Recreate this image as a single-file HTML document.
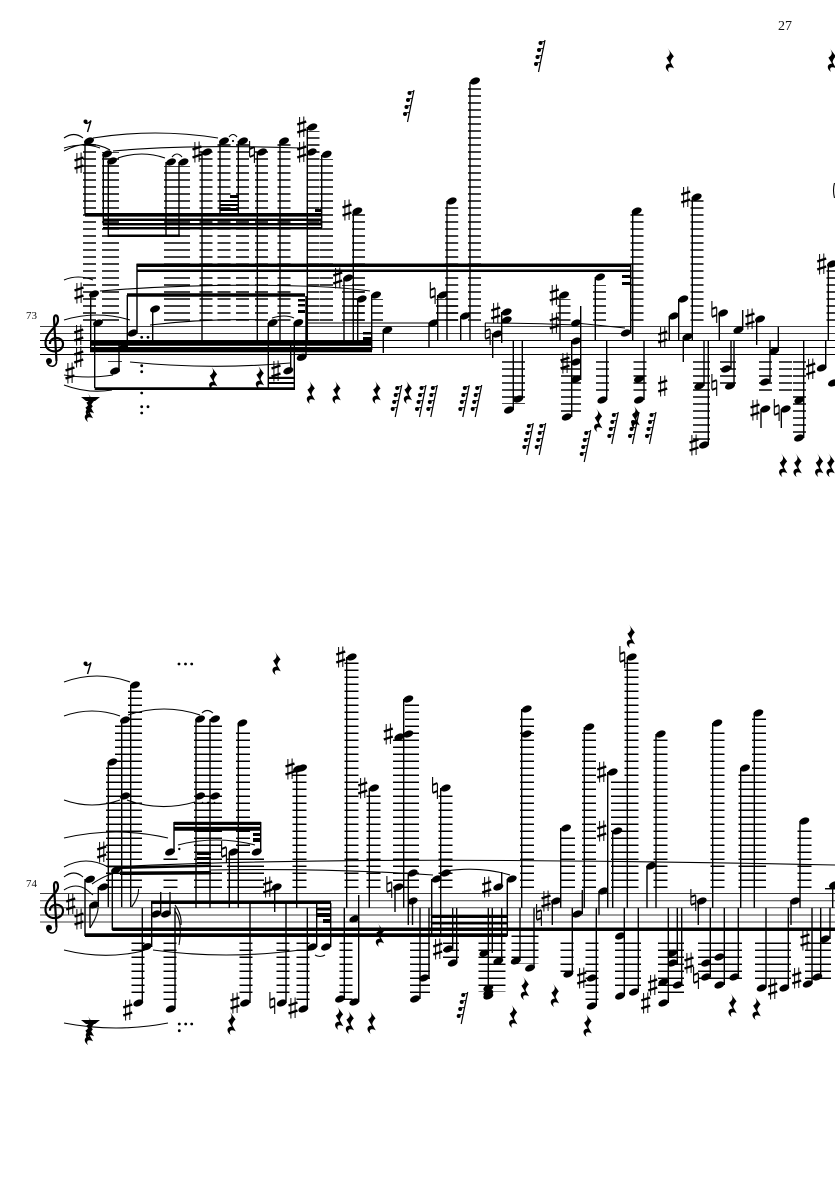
<!DOCTYPE html>
<html><head><meta charset="utf-8"><style>
html,body{margin:0;padding:0;background:#fff}
svg{display:block}
.st{fill:none;stroke:#000;stroke-width:1.4}
.lg{fill:none;stroke:#000;stroke-dasharray:1.5 5.5}
.sl{fill:none;stroke:#000;stroke-width:1.1}
text{font-family:"Liberation Serif",serif;fill:#111}
</style></head><body>
<svg width="835" height="1181" viewBox="0 0 835 1181" xmlns="http://www.w3.org/2000/svg">
<defs>
<ellipse id="n" rx="5.2" ry="3.3" transform="rotate(-22)"/>
<g id="s"><path d="M-2.100 -10V10.500M2.100 -10.500V10" stroke="#000" stroke-width="1"/><path d="M-4.500 -2.500L4.500 -5.500M-4.500 5.500L4.500 2.500" stroke="#000" stroke-width="2.400"/></g>
<g id="t"><path d="M-2.400 -11V4.500M2.400 -4.500V11" stroke="#000" stroke-width="1.100"/><path d="M-2.400 -3L2.400 -5M-2.400 5L2.400 3" stroke="#000" stroke-width="2"/></g>
<path id="r" transform="scale(1.200)" d="M-2 -10L3.200 -3C1.200 -1 .4 1 .6 2L3.400 7C0 5 -3 6 -.8 10C-5 7 -4 3 0 3L-3 -2C0 -4 1 -6 -2 -10Z"/>
<g id="f"><path d="M0 0L-6.500 32" stroke="#000" stroke-width="1.200"/><circle cx="-4.500" cy="3" r="2"/><circle cx="-6" cy="10" r="2"/><circle cx="-7.500" cy="17" r="2"/><circle cx="-9" cy="24" r="2"/><path d="M-4.500 2L-.5 1.500M-6 9L-2 8.500M-7.500 16L-3.500 15.500M-9 23L-5 22.500" stroke="#000" stroke-width="1"/></g>
<g id="e"><circle cx="-2.500" cy="-3.500" r="2"/><path d="M-3 -2C-1 -1 1 -2 3 -4.500L-.5 7" fill="none" stroke="#000" stroke-width="1.400"/></g>
<g id="c"><path d="M56.500 361L54 319C53.800 314 58 314 58 320C58 327 45.500 332 45.500 343C45.500 354 63 354 63 344C63 336 49.500 336 50 344" fill="none" stroke="#000" stroke-width="2.200"/><path d="M56.500 361C57 368 47 368 47 361" fill="none" stroke="#000" stroke-width="1.500"/><circle cx="49" cy="361" r="3"/></g>
<g id="b"><path d="M-8 0H11L6 4H-3Z"/><use href="#r" x="1" y="8"/><use href="#r" x="0" y="13"/></g>
</defs>

<text x="778" y="30" font-size="14">27</text>
<text x="26" y="319" font-size="11">73</text>
<text x="26" y="887" font-size="11">74</text>

<!-- staves -->
<path d="M40 326.500H835M40 333.500H835" stroke="#000" stroke-width="1" opacity=".75"/>
<path d="M40 340.500H835M40 347.500H835M40 354.500H835" stroke="#000" stroke-width="1"/>
<path d="M40 893.500H835M40 900.700H835M40 907.800H835M40 915H835M40 922H835" stroke="#000" stroke-width="1" opacity=".75"/>
<use href="#c"/><use href="#c" y="566.700"/>

<!-- ledger lines -->
<g class="lg">
<path stroke-width="13" d="M89.500 320.700V144M242.500 320.700V144M261.500 320.700V151M284 320.700V144M206 320.700V151M224 320.700V144M358.500 320.700V214M451.700 320.700V203M474.500 320.700V87M637 320.700V214M697 320.700V200M599.500 320.700V285M564 320.700V299M833 320.700V269"/>
<path stroke-width="17" d="M110.500 320.700V152"/>
<path stroke-width="26" d="M177 320.700V166"/>
<path stroke-width="13" d="M313 320.700V131M326.500 320.700V159"/>
<path stroke-width="22" d="M353 320.700V285M447 320.700V299"/>
<path stroke-width="12" d="M377 320.700V299"/>
<path stroke-width="23" d="M513.500 361.200V404"/>
<path stroke-width="20" d="M571 361.200V413"/>
<path stroke-width="13" d="M602.500 361.200V396M640 361.200V396M765.500 361.200V396M785.500 361.200V396"/>
<path stroke-width="17" d="M701.500 361.200V442"/>
<path stroke-width="16" d="M728 361.200V385"/>
<path stroke-width="13" d="M799.500 361.200V435"/>
<path stroke-width="14" d="M115 361.200V362"/>

<path stroke-width="14" d="M135 888V689M243 888V727M299.500 888V773M351.500 888V661M373.500 888V793M445.500 888V793M527 888V713M589 888V732M618 888V776M631.500 888V661M660.500 888V739M717.500 888V728M745.500 888V772M759 888V718M804.500 888V826M832 888V890M568 888V832"/>
<path stroke-width="28" d="M208 888V724"/>
<path stroke-width="20" d="M116 888V766M125 888V724"/>
<path stroke-width="22" d="M404 888V739"/>
<path stroke-width="14" d="M412 888V703"/>
<path stroke-width="14" d="M170.500 888V856M234 888V857M257 888V857"/>
<path stroke-width="13" d="M620 888V835"/>
<path stroke-width="13" d="M138 928.500V998M170 928.500V1005M246 928.500V998M283 928.500V998M303 928.500V1005M346 928.500V1002"/>
<path stroke-width="20" d="M420 942.500V994"/>
<path stroke-width="16" d="M451 942.500V958"/>
<path stroke-width="27" d="M492 928.500V992M525 928.500V964"/>
<path stroke-width="13" d="M592 942.500V1002M567 942.500V972"/>
<path stroke-width="26" d="M628 942.500V991"/>
<path stroke-width="26" d="M671 942.500V998"/>
<path stroke-width="44" d="M720 942.500V981"/>
<path stroke-width="36" d="M773 942.500V984"/>
<path stroke-width="26" d="M818 942.500V981"/>
</g>

<!-- beams -->
<g fill="#000">
<path d="M85 213H322V216.600H85ZM103 218.500H322V221H103ZM103 223H322V225.500H103ZM103 227H322V229.500H103ZM108 234.500H180V237H108Z"/>
<path d="M220 200H238V202H220ZM220 204H238V206H220ZM220 208H238V211H220ZM230 195H238V198H230ZM315 209H322V212H315Z"/>
<path d="M136.500 263.500H631V267H136.500ZM136.500 269.500H631V272H136.500ZM127 293.300H305V296.700H127ZM622 275H630V278H622ZM622 282H630V285H622Z"/>
<path d="M90 341H372V345.700H90ZM90 347.700H372V352.300H90ZM363 332H372V334.500H363ZM363 337H372V341H363ZM298 299H305V301.500H298ZM298 304H305V306.500H298ZM298 310H305V313H298Z"/>
<path d="M94.700 387.300H295V390H94.700ZM268 376.700H295V379H268ZM268 382H295V384H268Z"/>
<path d="M174 821.700H261V825H174ZM174 826.700H261V830.700H174ZM253 833H261V836H253ZM253 838H261V842H253ZM197 852H211V855H197ZM197 857H211V860H197ZM197 862H211V864H197Z"/>
<path d="M120 866.500L211 864.500V867L120 869ZM120 871.500L211 871V874.500L120 875Z"/>
<path d="M151.700 900.700H331V904H151.700ZM112.300 927.500H835V931H112.300ZM85 933.300H507.300V937H85ZM431.700 915H507.300V918H431.700ZM431.700 922H507.300V924.500H431.700Z"/>
<path d="M317 908H331V910.500H317ZM317 913H331V917H317ZM323 919H331V923H323Z"/>
</g>

<!-- stems -->
<path class="st" d="M85 141V215M103.300 154V225M108.300 161V237M166 162V237M179 162V237M202 152V340M220 141V213M238.300 141V213M257.300 152V340M280 141V340M307.300 127V340M321.700 155V228M306 296V357
M90.700 294V352M94.700 323V388M137 333V264M127.300 348V295M152.700 309V343M119 343V372M268.300 323V390M294.300 323V390M290.700 340V370
M344 278V340M353.300 211V340M357.700 299V340M371.700 295V350M383.300 330V353M429 323V347M437.700 295V340M447 201V340M460.700 316V340M470 82V340
M501.700 312V343M492.700 334V358M513.300 340V410M522.300 340V399M560 295V340M571.700 341V417M580.700 306V380M595.300 277V340M606.700 340V400M630.700 333V264M632.700 211V340M644 340V400
M669.300 316V340M678.700 299V340M683.300 337V362M692.300 197V340M704 340V386M708.300 340V445M719.300 313V340M731 340V369M734 340V386M742.700 330V310M756.700 319V345M778.300 351V327M770 340V382M761 409V428M781.300 409V428M803.700 340V438M825.700 340V368M828.300 264V340
M130.700 685V907M121.700 720V907M108.300 762V907M196 719V908M210 719V908M238.300 723V908M296.700 769V908M346.700 657V908M369.300 788V908M403.700 699V908M440.700 788V908M521.700 709V908M560.700 828V908M584.300 727V908M607.700 772V908M612.700 831V908M627.300 657V908M656 734V908M647 866V908M712.700 723V908M740.700 768V908M754.300 713V908M800 821V908M832.700 885V908
M174 822V852M229.300 852V908M260.700 822V852M85 879V936M98.300 887V907M90 905V928M112.300 870V930
M142.300 908V1003M151.700 901V947M160.700 892V914M170 892V914M175 908V1009M250 904V1003M286 904V1003M274.700 887V912M395 887V912M408.300 873V925M412.500 901V925M431.700 879V935M440.700 873V935M501.700 887V872M507.300 879V936
M344.300 908V999M358.700 895V1002M307.300 908V1009M316.700 903V947M330.700 903V947M420 908V999M429 908V978M452.700 908V949M456.700 908V963M488.300 908V996M492.300 908V953M501.700 908V961M520 908V961M534 908V968M552.300 901V925M582.300 914V890M572.300 908V974M596.300 908V1006M599 891V915M624.300 908V996M638.300 908V992M668.300 908V1003M677.300 908V964M681.700 908V985M698.300 900V925M710.300 908V977M724.300 908V985M738.300 908V977M766 908V988M788.300 908V988M791 901V925M812 908V984M820.700 908V977M830 908V939"/>
<path d="M131.700 907Q139 897 138.500 889" class="sl" stroke-width="1.300"/>
<path d="M90 928Q98 915 98 908" class="sl"/>
<path d="M175 911Q183 922 179 945M175 905Q182 915 181 925" class="sl"/>

<!-- notes system 1 -->
<g>
<use href="#n" x="89" y="141"/><use href="#n" x="107" y="154"/><use href="#n" x="112" y="161"/><use href="#n" x="171" y="162"/><use href="#n" x="183.500" y="162"/><use href="#n" x="207" y="152"/><use href="#n" x="224" y="141"/><use href="#n" x="243" y="141"/><use href="#n" x="262" y="152"/><use href="#n" x="284" y="141"/><use href="#n" x="312.300" y="127"/><use href="#n" x="311.700" y="152"/><use href="#n" x="326.700" y="154.300"/>
<use href="#n" x="94" y="294"/><use href="#n" x="98" y="323"/><use href="#n" x="132.700" y="333"/><use href="#n" x="155" y="309"/><use href="#n" x="123" y="348"/><use href="#n" x="115" y="371"/><use href="#n" x="272.700" y="322.700"/><use href="#n" x="298.300" y="322.700"/><use href="#n" x="301.700" y="357.300"/><use href="#n" x="288.300" y="370.700"/>
<use href="#n" x="348" y="278"/><use href="#n" x="357.300" y="211"/><use href="#n" x="361.700" y="299"/><use href="#n" x="376" y="295"/><use href="#n" x="387.300" y="330"/><use href="#n" x="433.300" y="323"/><use href="#n" x="442.700" y="295"/><use href="#n" x="451.700" y="201"/><use href="#n" x="465" y="316"/><use href="#n" x="475" y="81"/>
<use href="#n" x="506.700" y="312"/><use href="#n" x="506.700" y="320"/><use href="#n" x="497.300" y="334"/><use href="#n" x="518.300" y="399"/><use href="#n" x="509" y="410"/><use href="#n" x="564" y="295"/><use href="#n" x="576" y="323"/><use href="#n" x="576" y="341"/><use href="#n" x="576" y="362"/><use href="#n" x="576" y="379"/><use href="#n" x="566.700" y="417"/><use href="#n" x="600" y="277"/><use href="#n" x="625.700" y="333"/><use href="#n" x="636.700" y="211"/><use href="#n" x="602.300" y="400"/><use href="#n" x="639" y="400"/><use href="#n" x="639" y="379"/>
<use href="#n" x="673.700" y="316"/><use href="#n" x="683.300" y="299"/><use href="#n" x="687.300" y="337"/><use href="#n" x="696.700" y="197"/><use href="#n" x="699.300" y="386"/><use href="#n" x="704" y="445"/><use href="#n" x="723" y="313"/><use href="#n" x="726" y="369"/><use href="#n" x="730" y="386"/><use href="#n" x="738.300" y="330"/><use href="#n" x="760" y="319"/><use href="#n" x="774" y="351"/><use href="#n" x="765" y="382"/><use href="#n" x="765.300" y="409"/><use href="#n" x="785.700" y="409"/><use href="#n" x="799.300" y="400"/><use href="#n" x="799" y="438"/><use href="#n" x="821.700" y="368"/><use href="#n" x="833" y="383"/><use href="#n" x="832" y="264"/>
</g>
<!-- notes system 2 -->
<g>
<use href="#n" x="135" y="685"/><use href="#n" x="125" y="720"/><use href="#n" x="125" y="796"/><use href="#n" x="112.300" y="762"/><use href="#n" x="200" y="719"/><use href="#n" x="215" y="719"/><use href="#n" x="200" y="796"/><use href="#n" x="215" y="796"/><use href="#n" x="242.300" y="723"/><use href="#n" x="298" y="769"/><use href="#n" x="170" y="852"/><use href="#n" x="233.300" y="852"/><use href="#n" x="256.700" y="852"/><use href="#n" x="116" y="870"/><use href="#n" x="90" y="879.300"/><use href="#n" x="103.300" y="887"/><use href="#n" x="94" y="905"/>
<use href="#n" x="138.300" y="1003"/><use href="#n" x="170.700" y="1009"/><use href="#n" x="156" y="914"/><use href="#n" x="166" y="914"/><use href="#n" x="146.700" y="946.700"/><use href="#n" x="245" y="1003"/><use href="#n" x="281.700" y="1003"/><use href="#n" x="276.700" y="887"/>
<use href="#n" x="351.700" y="657"/><use href="#n" x="302" y="768"/><use href="#n" x="374" y="788"/><use href="#n" x="408.300" y="699"/><use href="#n" x="408.300" y="734"/><use href="#n" x="399.300" y="737"/><use href="#n" x="445.700" y="788"/><use href="#n" x="526.700" y="709"/><use href="#n" x="526.700" y="734"/><use href="#n" x="566" y="828"/><use href="#n" x="398.300" y="887"/><use href="#n" x="412.700" y="873"/><use href="#n" x="412.700" y="901"/><use href="#n" x="436.700" y="879"/><use href="#n" x="445.700" y="873"/><use href="#n" x="498.300" y="887"/><use href="#n" x="511.700" y="879"/><use href="#n" x="354.300" y="919"/><use href="#n" x="340" y="999"/><use href="#n" x="354.300" y="1002"/><use href="#n" x="303.300" y="1009"/><use href="#n" x="312.300" y="947"/><use href="#n" x="326" y="947"/><use href="#n" x="415" y="999"/><use href="#n" x="424" y="978"/><use href="#n" x="448.300" y="949"/><use href="#n" x="452.700" y="963"/><use href="#n" x="484.300" y="953"/><use href="#n" x="498.300" y="961"/><use href="#n" x="488.300" y="988"/><use href="#n" x="488.300" y="993"/><use href="#n" x="488.300" y="996"/><use href="#n" x="515.700" y="961"/><use href="#n" x="530" y="968"/><use href="#n" x="556" y="901"/>
<use href="#n" x="577.300" y="914"/><use href="#n" x="568.300" y="974"/><use href="#n" x="589.300" y="727"/><use href="#n" x="612.700" y="772"/><use href="#n" x="617.300" y="831"/><use href="#n" x="603.300" y="891"/><use href="#n" x="631.700" y="657"/><use href="#n" x="660.700" y="734"/><use href="#n" x="651" y="866"/><use href="#n" x="701.700" y="901"/><use href="#n" x="717.300" y="723"/><use href="#n" x="745" y="768"/><use href="#n" x="758.300" y="713"/><use href="#n" x="804.300" y="821"/><use href="#n" x="795" y="901"/><use href="#n" x="834" y="885"/>
<use href="#n" x="591.700" y="978"/><use href="#n" x="591.700" y="1006"/><use href="#n" x="620" y="936"/><use href="#n" x="620" y="996"/><use href="#n" x="634" y="992"/><use href="#n" x="672.300" y="953"/><use href="#n" x="672.300" y="963"/><use href="#n" x="663.300" y="982"/><use href="#n" x="663.300" y="1003"/><use href="#n" x="677.700" y="985"/><use href="#n" x="706" y="963"/><use href="#n" x="706" y="977"/><use href="#n" x="719.300" y="957"/><use href="#n" x="719.300" y="985"/><use href="#n" x="734.300" y="977"/><use href="#n" x="761.700" y="988"/><use href="#n" x="784.300" y="988"/><use href="#n" x="807.700" y="984"/><use href="#n" x="817.300" y="977"/><use href="#n" x="825" y="939"/>
</g>

<!-- sharps -->
<g>
<use href="#s" x="79" y="163"/><use href="#s" x="197" y="152"/><use href="#s" x="301.700" y="127"/><use href="#s" x="301.700" y="152"/><use href="#s" x="79" y="293"/><use href="#s" x="78.700" y="335"/><use href="#s" x="78.700" y="357"/><use href="#s" x="70" y="373"/><use href="#s" x="347" y="210"/><use href="#s" x="337.700" y="278"/><use href="#s" x="495.700" y="313"/><use href="#s" x="554.300" y="295"/><use href="#s" x="554.300" y="323"/><use href="#s" x="565" y="363"/><use href="#s" x="662.700" y="337"/><use href="#s" x="662.700" y="386"/><use href="#s" x="685.700" y="197"/><use href="#s" x="694" y="445"/><use href="#s" x="750" y="319"/><use href="#s" x="755" y="410"/><use href="#s" x="810.700" y="369"/><use href="#s" x="821.700" y="264"/><use href="#s" x="276" y="371"/>
<use href="#s" x="70.700" y="904"/><use href="#s" x="79" y="919"/><use href="#s" x="101.700" y="852"/><use href="#s" x="127.700" y="1010"/><use href="#s" x="235" y="1003"/><use href="#s" x="290" y="769"/><use href="#s" x="293" y="1008"/><use href="#s" x="267.700" y="887"/><use href="#s" x="340.700" y="657"/><use href="#s" x="362.700" y="788"/><use href="#s" x="388.300" y="734"/><use href="#s" x="437.700" y="949"/><use href="#s" x="486.700" y="887"/><use href="#s" x="546" y="901"/><use href="#s" x="581.700" y="978"/><use href="#s" x="601.700" y="772"/><use href="#s" x="601.700" y="831"/><use href="#s" x="652.700" y="985"/><use href="#s" x="645.700" y="1003"/><use href="#s" x="689" y="963"/><use href="#s" x="772.700" y="989"/><use href="#s" x="796.700" y="978"/><use href="#s" x="805" y="940"/>
</g>
<!-- naturals -->
<g>
<use href="#t" x="252" y="152"/><use href="#t" x="432.700" y="293"/><use href="#t" x="487.700" y="334"/><use href="#t" x="714.300" y="385"/><use href="#t" x="714.300" y="312"/><use href="#t" x="776.700" y="410"/>
<use href="#t" x="224" y="852"/><use href="#t" x="272.300" y="1003"/><use href="#t" x="389.300" y="887"/><use href="#t" x="435" y="788"/><use href="#t" x="539" y="915"/><use href="#t" x="622.300" y="657"/><use href="#t" x="696" y="978"/><use href="#t" x="693.300" y="900"/>
</g>

<!-- rests -->
<g>
<use href="#e" x="88" y="125"/><use href="#e" x="88" y="667"/>
<use href="#r" x="213.300" y="378"/><use href="#r" x="260" y="377"/><use href="#r" x="311" y="392"/><use href="#r" x="336.700" y="392"/><use href="#r" x="376.700" y="392"/><use href="#r" x="408" y="392"/><use href="#r" x="598.300" y="420"/><use href="#r" x="635.700" y="417"/><use href="#r" x="670" y="60"/><use href="#r" x="832" y="60"/><use href="#r" x="783.300" y="465"/><use href="#r" x="797.700" y="465"/><use href="#r" x="819.300" y="465"/><use href="#r" x="830.700" y="465"/>
<use href="#r" x="276.700" y="663"/><use href="#r" x="231.700" y="1023"/><use href="#r" x="339.300" y="1018"/><use href="#r" x="350" y="1022"/><use href="#r" x="371.700" y="1022"/><use href="#r" x="380" y="935"/><use href="#r" x="525" y="988"/><use href="#r" x="555" y="995"/><use href="#r" x="513.300" y="1016"/><use href="#r" x="587.700" y="1025"/><use href="#r" x="732.700" y="1005"/><use href="#r" x="756.700" y="1008"/><use href="#r" x="631" y="636"/>
<use href="#b" x="89" y="397"/><use href="#b" x="89" y="1020"/>
<use href="#f" x="545" y="40"/><use href="#f" x="414" y="90" /><use href="#f" x="401.700" y="385"/>
<use href="#f" x="426" y="385"/><use href="#f" x="437.300" y="385"/><use href="#f" x="469.300" y="385"/><use href="#f" x="481.700" y="385"/><use href="#f" x="533.300" y="423"/><use href="#f" x="545.700" y="423"/><use href="#f" x="590.700" y="430"/><use href="#f" x="618.300" y="412"/><use href="#f" x="639" y="412"/><use href="#f" x="656" y="412"/><use href="#f" x="467.700" y="992"/>
</g>
<!-- dots -->
<g>
<circle cx="141.700" cy="337.300" r="1.400"/><circle cx="148" cy="337.300" r="1.400"/><circle cx="141.700" cy="365.700" r="1.400"/><circle cx="141.700" cy="371.700" r="1.400"/><circle cx="141.700" cy="393" r="1.400"/><circle cx="141.700" cy="406.700" r="1.400"/><circle cx="148" cy="406.700" r="1.400"/><circle cx="141.700" cy="413" r="1.400"/>
<circle cx="179" cy="664" r="1.400"/><circle cx="185.500" cy="664" r="1.400"/><circle cx="191.700" cy="664" r="1.400"/><circle cx="179.300" cy="1024" r="1.400"/><circle cx="185.700" cy="1024" r="1.400"/><circle cx="191.700" cy="1024" r="1.400"/><circle cx="179.300" cy="1030.700" r="1.400"/><circle cx="179.300" cy="849" r="1.200"/>
<circle cx="233" cy="141" r="1.100"/><path d="M229 137Q233 132 237 137" class="sl"/>
</g>
<path d="M834.500 183Q832.500 190 834.500 198" class="sl"/>

<!-- ties system 1 -->
<g class="sl">
<path d="M64 138Q74 131 83 138M64 151Q88 138 110 150M64 148Q84 142 100 148M93 138Q155 128 218 138M113 151Q190 144 300 148M118 158Q142 150 165 158M172 157Q177 151 182 157"/>
<path d="M64 280Q78 274 93 280M100 291Q200 283 300 286Q340 287 370 291M64 320Q97 310 130 320M150 325Q210 318 267 320M272 318Q285 314 294 318"/>
<path d="M64 375Q88 379 113 375M64 385Q88 394 112 390M130 362Q210 370 290 363"/>
<path d="M307 323H430M485 323Q530 323 576 325M576 323L625 328"/>
</g>
<!-- ties system 2 -->
<g class="sl">
<path d="M64 682Q97 670 130 682M64 716Q92 706 120 716M128 715Q164 703 200 715M202 713Q207 708 213 713"/>
<path d="M64 800Q92 810 120 800M127 800Q160 812 195 802M202 802Q205 805 208 802M208 802Q212 805 215 802"/>
<path d="M64 838Q116 826 168 838M64 867Q86 855 108 867M64 877Q74 869 83 877M64 890Q76 882 87 890M87 890L93 895M178 845Q216 835 255 845"/>
<path d="M64 950Q104 960 143 951M153 950Q226 960 300 950M315 955Q320 958 325 955"/>
<path d="M64 1023Q116 1033 168 1023"/>
<path d="M108 867Q300 858 565 861Q700 862 835 865M92 884Q105 875 116 873M210 870Q330 868 433 875M446 871Q480 866 510 875"/>
</g>
</svg>
</body></html>
